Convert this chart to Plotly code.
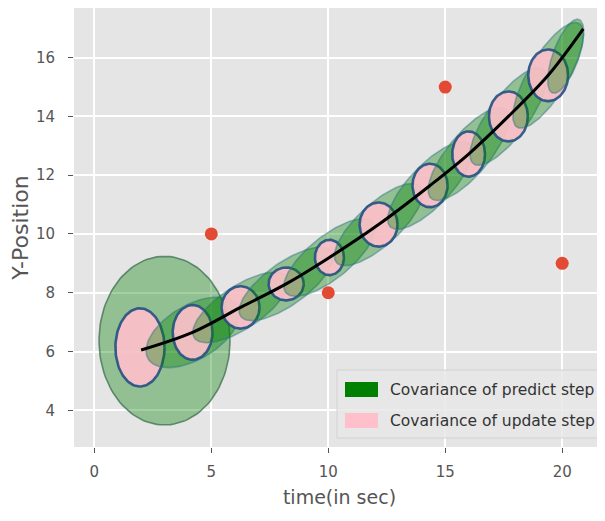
import numpy as np
import plotly.graph_objects as go

# ---------------- data ----------------
# filtered trajectory (black line)
traj_t = [2.0, 4.2, 6.25, 8.2, 10.05, 12.15, 14.35, 16.0, 17.7, 19.4, 20.9]
traj_y = [6.05, 6.65, 7.5, 8.3, 9.2, 10.32, 11.65, 12.72, 14.0, 15.4, 16.98]

# measurements (red dots)
meas_t = [5, 10, 15, 20]
meas_y = [10, 8, 15, 9]

# predict-step covariance ellipses: centre, std in x, std in y, correlation
pred_t = [3.0, 4.2, 6.25, 8.2, 10.05, 12.15, 14.35, 16.0, 17.7, 19.4, 20.15]
pred_y = [6.37, 6.65, 7.5, 8.3, 9.2, 10.32, 11.65, 12.72, 14.0, 15.4, 16.05]
pred_sx = [2.8, 1.99, 2.04, 2.01, 1.95, 1.89, 1.81, 1.73, 1.64, 1.51, 0.77]
pred_sy = [2.87, 1.20, 1.20, 1.25, 1.32, 1.40, 1.49, 1.58, 1.66, 1.80, 1.26]
pred_rho = [0.0, 0.52, 0.71, 0.73, 0.74, 0.76, 0.77, 0.77, 0.78, 0.77, 0.65]

# update-step covariance ellipses
upd_t = [1.95, 4.2, 6.25, 8.2, 10.05, 12.15, 14.35, 16.0, 17.7, 19.4]
upd_y = [6.14, 6.65, 7.5, 8.3, 9.2, 10.32, 11.65, 12.72, 14.0, 15.4]
upd_sx = [1.05, 0.85, 0.81, 0.75, 0.62, 0.81, 0.75, 0.70, 0.83, 0.85]
upd_sy = [1.33, 0.93, 0.72, 0.56, 0.60, 0.75, 0.74, 0.77, 0.85, 0.88]
upd_rho = [0.0, 0.0, 0.0, 0.0, 0.0, 0.0, 0.0, 0.0, 0.0, 0.0]

x_ticks = [0, 5, 10, 15, 20]
y_ticks = [4, 6, 8, 10, 12, 14, 16]
x_title = "time(in sec)"
y_title = "Y-Position"
legend_labels = ["Covariance of predict step", "Covariance of update step"]

# ---------------- figure ----------------
# the page body has an 8px margin, so the figure is sized to fill the window
OFF = 8
W, H = 597, 513
ML, MR, MT, MB = 66, 0, 0, 74
FONT = "DejaVu Sans"
GREY = "#555555"

tt = np.linspace(0, 2 * np.pi, 120)


def ellipse(cx, cy, sx, sy, rho):
    ex = cx + sx * np.cos(tt)
    ey = cy + sy * (rho * np.cos(tt) + np.sqrt(1 - rho ** 2) * np.sin(tt))
    return ex, ey


fig = go.Figure()


def add_pred(k):
    ex, ey = ellipse(pred_t[k], pred_y[k], pred_sx[k], pred_sy[k], pred_rho[k])
    edge = "rgba(60,110,80,0.75)" if k == 0 else "rgba(40,110,130,0.45)"
    fig.add_trace(go.Scatter(x=ex, y=ey, mode="lines", fill="toself",
                             fillcolor="rgba(0,128,0,0.36)",
                             line=dict(color=edge, width=1.6),
                             hoverinfo="skip", showlegend=False))


def add_upd(k):
    ex, ey = ellipse(upd_t[k], upd_y[k], upd_sx[k], upd_sy[k], upd_rho[k])
    fig.add_trace(go.Scatter(x=ex, y=ey, mode="lines", fill="toself",
                             fillcolor="rgba(255,192,203,0.9)",
                             line=dict(color="rgba(35,80,130,0.9)", width=2.6),
                             hoverinfo="skip", showlegend=False))


for k in range(len(upd_t)):
    add_pred(k)
    add_upd(k)
for k in range(len(upd_t), len(pred_t)):
    add_pred(k)

fig.add_trace(go.Scatter(x=traj_t, y=traj_y, mode="lines",
                         line=dict(color="black", width=3, shape="spline"),
                         showlegend=False))
fig.add_trace(go.Scatter(x=meas_t, y=meas_y, mode="markers",
                         marker=dict(color="#E24A33", size=13,
                                     line=dict(width=0)),
                         showlegend=False))

axis_common = dict(showgrid=True, gridcolor="white", gridwidth=1.5,
                   zeroline=False, showline=False, ticks="outside",
                   ticklen=5, tickwidth=1, tickcolor=GREY,
                   tickfont=dict(family=FONT, size=15, color=GREY))

fig.update_xaxes(range=[-0.87, 21.83], tickvals=x_ticks,
                 title=dict(text=x_title, standoff=10,
                            font=dict(family=FONT, size=19, color=GREY)),
                 ticklabelstandoff=6, **axis_common)
fig.update_yaxes(range=[2.75, 17.69], tickvals=y_ticks,
                 title=dict(text=y_title, standoff=10,
                            font=dict(family=FONT, size=22, color=GREY)),
                 ticklabelstandoff=10, **axis_common)

# ---- manual legend (matplotlib style), positions in window pixels ----
PW, PH = W - ML - MR, H - MT - MB


def px(x):
    return (x - OFF - ML) / PW


def py(y):
    return (H - MB - (y - OFF)) / PH


fig.add_shape(type="rect", xref="paper", yref="paper",
              x0=px(337), x1=px(607), y0=py(438), y1=py(370),
              fillcolor="rgba(232,232,232,0.85)",
              line=dict(color="#D2D2D2", width=1))
patch_cols = ["#008000", "#FFC0CB"]
rows = [389.5, 420.5]
for lab, col, yc in zip(legend_labels, patch_cols, rows):
    fig.add_shape(type="rect", xref="paper", yref="paper",
                  x0=px(345), x1=px(378), y0=py(yc + 7.5), y1=py(yc - 7.5),
                  fillcolor=col, line=dict(width=0))
    fig.add_annotation(x=px(388), y=py(yc), xref="paper", yref="paper",
                       text=lab, showarrow=False, xanchor="left",
                       yanchor="middle",
                       font=dict(family=FONT, size=15.5, color="#333333"))

fig.update_layout(width=W, height=H,
                  margin=dict(l=ML, r=MR, t=MT, b=MB, autoexpand=False),
                  plot_bgcolor="#E5E5E5", paper_bgcolor="white",
                  showlegend=False)

fig.write_html("out.html")
